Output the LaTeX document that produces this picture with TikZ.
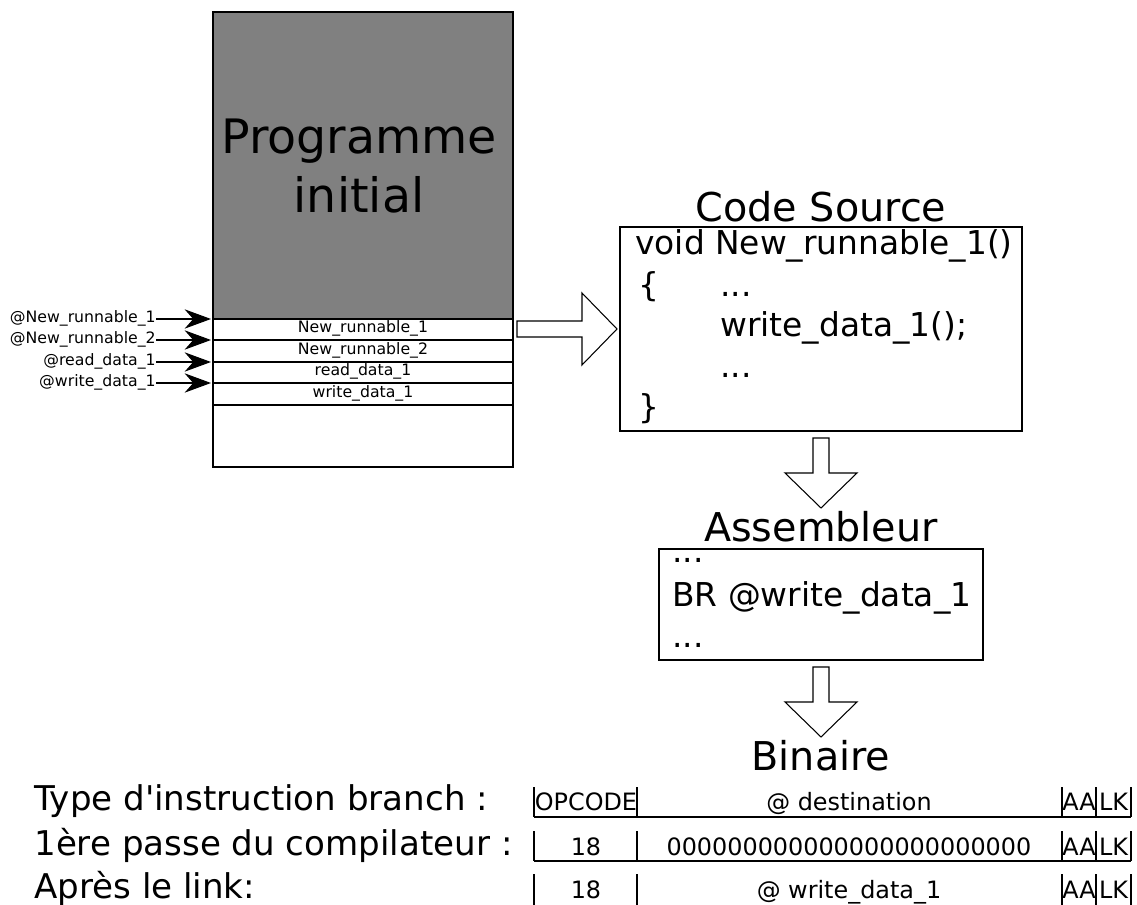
\documentclass[tikz,border=0pt]{standalone}
\usepackage{fontspec}
\setmainfont{DejaVu Sans}
\usetikzlibrary{arrows.meta}

\tikzset{
	petit/.style={font=\fontsize{8.95}{10}\selectfont, inner sep=0pt},
	titre/.style={font=\fontsize{22.6}{26}\selectfont, inner sep=0pt, anchor=base},
	code/.style={font=\fontsize{18.7}{22}\selectfont, inner sep=0pt, anchor=base west},
	ligne/.style={font=\fontsize{19.4}{23}\selectfont, inner sep=0pt, anchor=base west},
	champ/.style={font=\fontsize{13.6}{16}\selectfont, inner sep=0pt, anchor=base},
	fleche/.style={draw, fill=white, line width=0.6pt},
	pointe/.style={-{Stealth[length=15pt,width=11pt]}, line width=0.6pt}
}

\begin{document}
\begin{tikzpicture}[x=0.02cm, y=-0.02cm]
		\useasboundingbox (0,0) rectangle (1137,905);

		% Draw the memory of the initial program
		\draw[fill=gray, line width=0.8pt] (213,12) rectangle (513,319);
		\draw[line width=0.8pt] (213,319) rectangle (513,467);
		\foreach \y in {340,362,383,405}
			\draw[line width=0.6pt] (213,\y) -- (513,\y);
		\node[font=\fontsize{27}{33.5}\selectfont, align=center, inner sep=0pt] (prog) at (359,166) {Programme\\initial};

		% Name the rows
		\node[petit, anchor=base] (r1) at (363,333) {New\_runnable\_1};
		\node[petit, anchor=base] (r2) at (363,355) {New\_runnable\_2};
		\node[petit, anchor=base] (r3) at (363,376) {read\_data\_1};
		\node[petit, anchor=base] (r4) at (363,398) {write\_data\_1};

		% Mark the addresses
		\coordinate (a1) at (211,319);
		\coordinate (a2) at (211,340);
		\coordinate (a3) at (211,362);
		\coordinate (a4) at (211,383);
		\node[petit, anchor=base east] (l1) at (156,323) {@New\_runnable\_1};
		\node[petit, anchor=base east] (l2) at (156,344) {@New\_runnable\_2};
		\node[petit, anchor=base east] (l3) at (156,366) {@read\_data\_1};
		\node[petit, anchor=base east] (l4) at (156,387) {@write\_data\_1};
		\draw[pointe] (l1.east |- a1) -- (a1);
		\draw[pointe] (l2.east |- a2) -- (a2);
		\draw[pointe] (l3.east |- a3) -- (a3);
		\draw[pointe] (l4.east |- a4) -- (a4);

		% Draw the big arrow to the source code
		\draw[fleche] (517,321) -- (582,321) -- (582,293) -- (617,329) -- (582,365) -- (582,337) -- (517,337) -- cycle;

		% Source code
		\node[titre] (src) at (821,222) {Code Source};
		\draw[line width=0.6pt] (620,227) rectangle (1022,431);
		\node[code] (c1) at (635,255) {void New\_runnable\_1()};
		\node[code] (c2) at (638,297) {\{};
		\node[code] (c2b) at (720,297) {...};
		\node[code] (c3) at (720,337) {write\_data\_1();};
		\node[code] (c4) at (720,378) {...};
		\node[code] (c5) at (638,419) {\}};

		% Draw the arrow down to the assembler
		\draw[fleche] (813,438) -- (829,438) -- (829,473) -- (857,473) -- (821,508) -- (785,473) -- (813,473) -- cycle;

		% Assembler
		\node[titre] (asmb) at (821,542) {Assembleur};
		\draw[line width=0.6pt] (659,549) rectangle (983,660);
		\node[code] (s1) at (672,563) {...};
		\node[code] (s2) at (672,607) {BR @write\_data\_1};
		\node[code] (s3) at (672,648) {...};

		% Draw the arrow down to the binary
		\draw[fleche] (813,667) -- (829,667) -- (829,702) -- (857,702) -- (821,737) -- (785,702) -- (813,702) -- cycle;
		\node[titre] (bin) at (821,770) {Binaire};

		% Instruction fields
		\node[ligne] (t1) at (34,810) {Type d\textquotesingle instruction branch :};
		\node[ligne] (t2) at (34,855) {1ère passe du compilateur :};
		\node[ligne] (t3) at (34,898) {Après le link:};
		\foreach \yh/\yb in {787/817, 831/861, 874/905}
			\foreach \x in {534,637,1062,1096,1131}
				\draw[line width=0.6pt] (\x,\yh) -- (\x,\yb);
		\draw[line width=0.6pt] (534,817) -- (1131,817);
		\draw[line width=0.6pt] (534,861) -- (1131,861);

		\node[champ] (f1) at (586,810) {OPCODE};
		\node[champ] (f2) at (849,810) {@ destination};
		\node[champ] (f3) at (1079,810) {AA};
		\node[champ] (f4) at (1113.5,810) {LK};
		\node[champ] (g1) at (586,855) {18};
		\node[champ] (g2) at (849,855) {000000000000000000000000};
		\node[champ] (g3) at (1079,855) {AA};
		\node[champ] (g4) at (1113.5,855) {LK};
		\node[champ] (h1) at (586,898) {18};
		\node[champ] (h2) at (849,898) {@ write\_data\_1};
		\node[champ] (h3) at (1079,898) {AA};
		\node[champ] (h4) at (1113.5,898) {LK};
	\end{tikzpicture}
\end{document}
